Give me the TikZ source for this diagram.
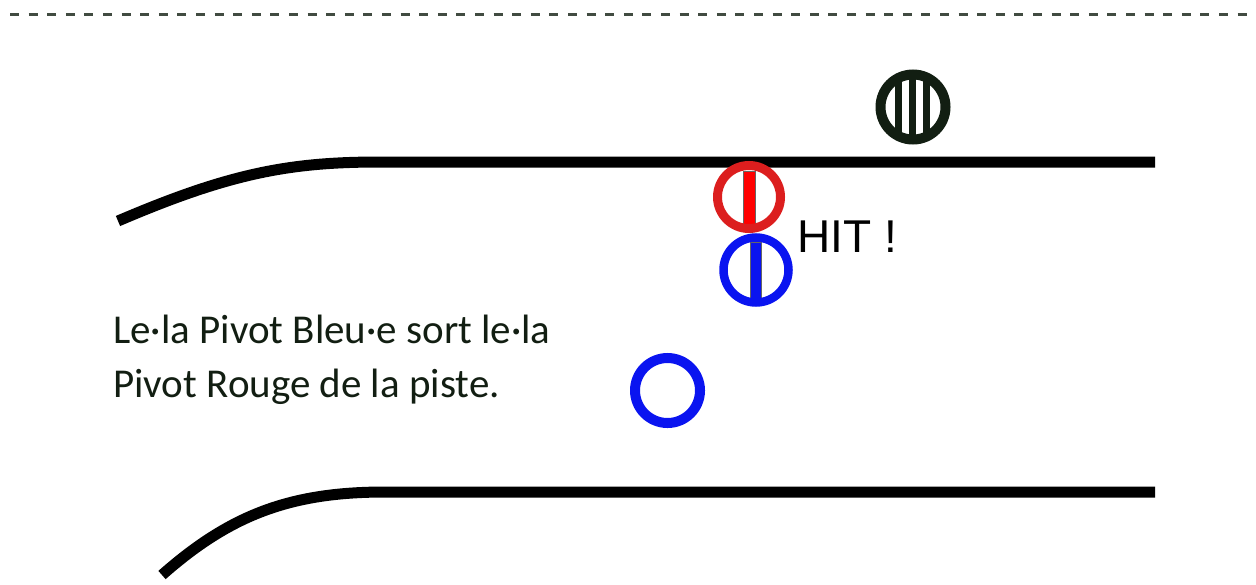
\documentclass[tikz,border=0pt]{standalone}
\usepackage{fontspec}
\setmainfont{Carlito}
\newfontfamily\hitfont{Liberation Sans}
\usepackage{tikz}

\definecolor{inkgreen}{RGB}{18,30,18}
\definecolor{ringred}{RGB}{220,30,30}
\definecolor{pivotblue}{RGB}{10,20,240}

\begin{document}
\begin{tikzpicture}[x=1pt,y=-1pt]
      \useasboundingbox (0,0) rectangle (1256,584);
      % limite du terrain
      \draw[line width=3pt, color=inkgreen!80, dash pattern=on 9pt off 9.6pt]
      (10,14) -- (1256,14);
      % bords de la piste
      \draw[line width=11pt] (118,221) .. controls (230,173) and (290,162) .. (380,162) -- (1155,162);
      \draw[line width=11pt] (162,575) .. controls (230,515) and (290,492) .. (385,492) -- (1155,492);
      % pivot noir
      \draw[line width=10pt, color=inkgreen] (913,107) circle (32.5);
      \foreach \x in {898,912,926}
      \fill[inkgreen] (\x-3.5,78) rectangle (\x+3.5,136);
      % pivot rouge
      \filldraw[draw=black!60, fill=red, line width=.8pt] (743,171) rectangle (755,224);
      \draw[line width=9pt, color=ringred] (749,197) circle (31.5);
      % pivot bleu
      \filldraw[draw=black!60, fill=pivotblue, line width=.8pt] (750.5,242) rectangle (761.5,298);
      \draw[line width=8.5pt, color=pivotblue] (756,270) circle (32.5);
      \draw[line width=10pt, color=pivotblue] (667.5,390.5) circle (32.5);
      % textes
      \node[anchor=base west, inner sep=0pt, font=\hitfont\fontsize{46}{50}\selectfont]
      (hit) at (797,252) {HIT !};
      \node[anchor=base west, inner sep=0pt, align=left, text=inkgreen,
      font=\fontsize{41}{54}\selectfont] (legende) at (113,397)
      {Le·la Pivot Bleu·e sort le·la\\Pivot Rouge de la piste.};
    \end{tikzpicture}
\end{document}
